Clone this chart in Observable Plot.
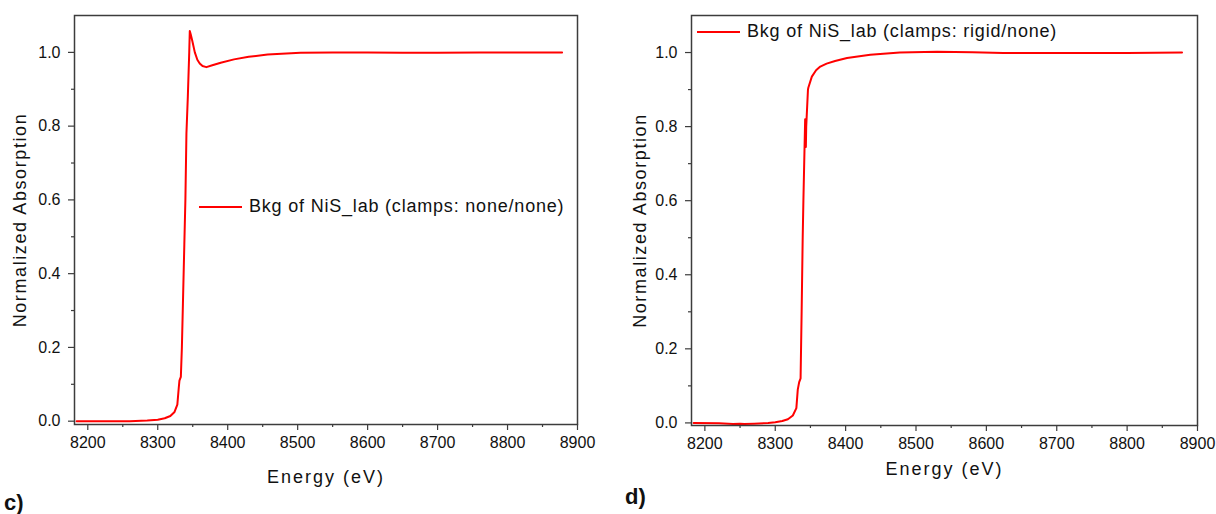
<!DOCTYPE html>
<html>
<head>
<meta charset="utf-8">
<script src="https://cdn.jsdelivr.net/npm/d3@7"></script>
<script src="https://cdn.jsdelivr.net/npm/@observablehq/plot@0.6"></script>
<style>
  html, body { margin: 0; padding: 0; background: #fff; }
  #page { position: relative; width: 1216px; height: 514px; overflow: hidden; font-family: "Liberation Sans", Arial, sans-serif; }
  .panel { position: absolute; top: 0; }
  .legend { position: absolute; display: flex; align-items: center; font-size: 18px; letter-spacing: 0.8px; color: #111; white-space: nowrap; }
  .legend svg { margin-right: 7px; }
  .tag { position: absolute; font-family: "Liberation Sans", Arial, sans-serif; font-weight: bold; font-size: 22px; color: #111; }
</style>
</head>
<body>
<div id="page">
  <div id="c" class="panel" style="left:0px"></div>
  <div id="d" class="panel" style="left:608px"></div>
</div>
<script>
// ---- data ----
const energyC = [8184, 8220, 8260, 8285, 8300, 8310, 8318, 8324, 8328, 8330, 8331, 8333, 8334.5, 8336, 8338, 8339.5, 8341, 8343, 8345, 8345.8, 8347, 8349.5, 8353, 8356.6, 8360, 8364, 8369.5, 8378, 8390, 8409, 8430, 8457, 8504, 8550, 8600, 8650, 8700, 8760, 8820, 8878];
const absC    = [0, 0, 0, 0.002, 0.004, 0.008, 0.014, 0.025, 0.045, 0.09, 0.11, 0.12, 0.2, 0.32, 0.48, 0.6, 0.78, 0.88, 1.0, 1.058, 1.05, 1.03, 1.0, 0.98, 0.97, 0.963, 0.96, 0.965, 0.972, 0.981, 0.988, 0.994, 0.999, 1.0, 1.0, 0.999, 0.999, 1.0, 1.0, 1.0];

const energyD = [8184, 8220, 8240, 8250, 8256, 8270, 8290, 8300, 8310, 8318, 8325, 8330, 8332, 8334, 8336, 8337.5, 8339, 8340, 8342.5, 8343.5, 8344, 8346.5, 8347, 8352, 8358, 8364, 8373, 8385, 8402, 8435, 8477, 8530, 8580, 8624, 8700, 8800, 8878];
const absD    = [0, -0.001, -0.003, -0.002, -0.003, -0.002, 0, 0.002, 0.005, 0.01, 0.02, 0.04, 0.09, 0.11, 0.12, 0.3, 0.5, 0.6, 0.82, 0.745, 0.8, 0.9, 0.905, 0.935, 0.952, 0.962, 0.97, 0.977, 0.985, 0.994, 1.0, 1.002, 1.001, 0.999, 0.999, 0.999, 1.0];

const xMajor = [8200, 8300, 8400, 8500, 8600, 8700, 8800, 8900];
const xMinor = [8250, 8350, 8450, 8550, 8650, 8750, 8850];
const yMajor = [0.0, 0.2, 0.4, 0.6, 0.8, 1.0];
const yMinor = [0.1, 0.3, 0.5, 0.7, 0.9];

const xLabel = "Energy (eV)";
const yLabel = "Normalized Absorption";
const legendC = "Bkg of NiS_lab (clamps: none/none)";
const legendD = "Bkg of NiS_lab (clamps: rigid/none)";

const axisColor = "#3c3c3c";
const lineColor = "#ff0000";

function makePlot(energy, abs, opts) {
  const data = energy.map((e, i) => ({e, a: abs[i]}));
  return Plot.plot({
    width: 608,
    height: 490,
    marginLeft: opts.marginLeft,
    marginRight: opts.marginRight,
    marginTop: 15,
    marginBottom: opts.marginBottom,
    style: {fontFamily: "'Liberation Sans', Arial, sans-serif", fontSize: "16px", color: "#111", background: "#fff"},
    x: {domain: [8181, 8900]},
    y: {domain: opts.yDomain},
    marks: [
      Plot.line(data, {x: "e", y: "a", stroke: lineColor, strokeWidth: 2}),
      Plot.frame({stroke: axisColor, strokeWidth: 1.5}),
      Plot.axisX({ticks: xMinor, tickSize: 3, text: null, label: null, stroke: axisColor, strokeWidth: 1.2}),
      Plot.axisX({ticks: xMajor, tickSize: 6, tickPadding: 6, fontSize: 16, tickFormat: d => String(d), label: null, stroke: axisColor, strokeWidth: 1.2, fill: "#111"}),
      Plot.axisY({ticks: yMinor, tickSize: 3, text: null, label: null, stroke: axisColor, strokeWidth: 1.2}),
      Plot.axisY({ticks: yMajor, tickSize: 6, tickPadding: 8, fontSize: 16, tickFormat: d3.format(".1f"), label: null, stroke: axisColor, strokeWidth: 1.2, fill: "#111"}),
      Plot.text([xLabel], {frameAnchor: "bottom", textAnchor: "middle", dy: opts.xLabelDy, fontSize: 18, fill: "#111"}),
      Plot.text([yLabel], {frameAnchor: "left", textAnchor: "middle", dx: opts.yLabelDx, rotate: -90, fontSize: 18, fill: "#111"})
    ]
  });
}

function legend(text, left, top) {
  const div = document.createElement("div");
  div.className = "legend";
  div.style.left = left + "px";
  div.style.top = top + "px";
  div.innerHTML = `<svg width="43" height="4"><line x1="0" y1="2" x2="43" y2="2" stroke="${lineColor}" stroke-width="2"/></svg><span>${text}</span>`;
  return div;
}

const pc = makePlot(energyC, absC, {marginLeft: 74, marginRight: 31, marginBottom: 66, yDomain: [-0.009, 1.1], xLabelDy: 58, yLabelDx: -54});
const pd = makePlot(energyD, absD, {marginLeft: 83, marginRight: 19, marginBottom: 65, yDomain: [-0.007, 1.1], xLabelDy: 49, yLabelDx: -51});
document.getElementById("c").appendChild(pc);
document.getElementById("d").appendChild(pd);

// letter spacing for axis labels
document.querySelectorAll("svg text").forEach(t => {
  if (t.textContent === yLabel) t.setAttribute("letter-spacing", "1.6");
  if (t.textContent === xLabel) t.setAttribute("letter-spacing", "2");
});

const page = document.getElementById("page");
page.appendChild(legend(legendC, 199, 196));
page.appendChild(legend(legendD, 697, 21));

const tc = document.createElement("div");
tc.className = "tag"; tc.textContent = "c)"; tc.style.left = "4px"; tc.style.top = "490px";
page.appendChild(tc);
const td = document.createElement("div");
td.className = "tag"; td.textContent = "d)"; td.style.left = "625px"; td.style.top = "484px";
page.appendChild(td);
</script>
</body>
</html>
